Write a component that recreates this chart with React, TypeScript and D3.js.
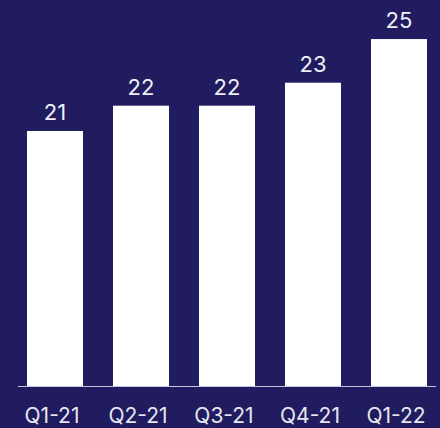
import React from "react";
import * as d3 from "d3";

const categories = ["Q1-21", "Q2-21", "Q3-21", "Q4-21", "Q1-22"];
const values = [21.1, 22.2, 22.2, 23.2, 25.1];
const labels = ["21", "22", "22", "23", "25"];

const W = 440;
const H = 428;
const BG = "#201c5f";

export default function App() {
  const x = d3
    .scaleBand<string>()
    .domain(categories)
    .range([27, 427])
    .paddingInner(30 / 86)
    .paddingOuter(0);
  const y = d3.scaleLinear().domain([10, 26.8]).range([386, 0]);
  const baseY = 386;
  return (
    <svg
      width={W}
      height={H}
      style={{ position: "absolute", left: 0, top: 0, display: "block" }}
      fontFamily="Inter, 'Noto Sans', sans-serif"
    >
      <rect width={W} height={H} fill={BG} />
      {categories.map((c, i) => (
        <g key={c}>
          <rect
            x={x(c)}
            y={y(values[i])}
            width={x.bandwidth()}
            height={baseY - y(values[i])}
            fill="#ffffff"
          />
          <text
            x={(x(c) ?? 0) + x.bandwidth() / 2}
            y={y(values[i]) - 11}
            textAnchor="middle"
            fontSize={22}
            fill="#f0f0f6"
          >
            {labels[i]}
          </text>
          <text
            x={(x(c) ?? 0) + x.bandwidth() / 2 - 3}
            y={423}
            textAnchor="middle"
            fontSize={21}
            fill="#e6e6f0"
          >
            {c}
          </text>
        </g>
      ))}
      <line x1={18} x2={436} y1={baseY + 0.5} y2={baseY + 0.5} stroke="#c4c4dc" strokeWidth={1} />
    </svg>
  );
}
